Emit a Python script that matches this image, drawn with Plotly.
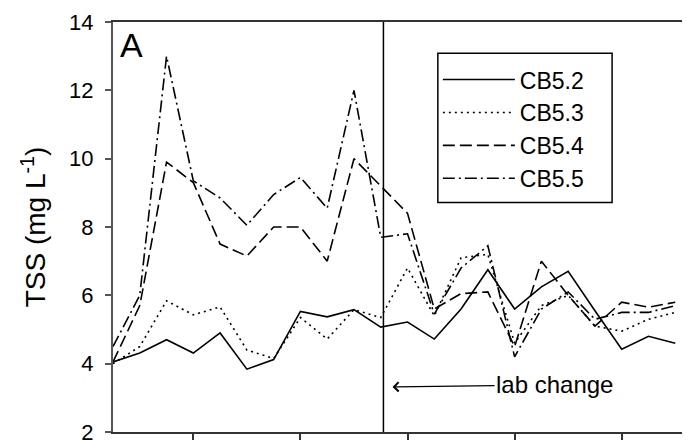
import plotly.graph_objects as go

# sample index (time step) along the x axis
idx = list(range(22))

cb52 = [4.05, 4.31, 4.70, 4.31, 4.90, 3.84, 4.12, 5.53, 5.37, 5.58, 5.07, 5.22,
        4.72, 5.60, 6.75, 5.60, 6.25, 6.70, 5.55, 4.42, 4.80, 4.60]
cb53 = [4.00, 4.50, 5.84, 5.43, 5.66, 4.40, 4.15, 5.35, 4.72, 5.58, 5.35, 6.80,
        5.40, 7.10, 7.20, 4.60, 5.70, 6.00, 5.10, 4.95, 5.30, 5.50]
cb54 = [4.05, 5.70, 9.90, 9.30, 7.50, 7.15, 8.00, 8.00, 7.00, 10.00, 9.20, 8.40,
        5.60, 6.05, 6.10, 4.50, 7.00, 6.00, 5.10, 5.80, 5.65, 5.80]
cb55 = [4.50, 6.00, 13.00, 9.35, 8.85, 8.05, 8.95, 9.45, 8.55, 12.00, 7.70, 7.80,
        5.45, 6.80, 7.45, 4.20, 5.60, 6.10, 5.30, 5.50, 5.50, 5.70]

names = ["CB5.2", "CB5.3", "CB5.4", "CB5.5"]
series = [cb52, cb53, cb54, cb55]
dashes = ["solid", "2px,4px", "12px,5px", "12px,4px,2px,4px"]

x_ticks = [3, 7, 11, 15, 19]
y_ticks = [2, 4, 6, 8, 10, 12, 14]
lab_change_x = 10.1

FONT = "Liberation Sans, Arial, sans-serif"

fig = go.Figure()
for name, vals, dash in zip(names, series, dashes):
    fig.add_trace(go.Scatter(
        x=idx, y=vals, mode="lines", name=name,
        line=dict(color="black", width=1.6, dash=dash),
    ))

fig.add_shape(type="line", xref="x", yref="paper", x0=lab_change_x, x1=lab_change_x,
              y0=0, y1=1, line=dict(color="black", width=1.5))

# frame around the legend (wider than plotly's own legend box)
fig.add_shape(type="rect", xref="paper", yref="paper", x0=0.563, x1=0.865,
              y0=0.560, y1=0.924, line=dict(color="black", width=1.5),
              fillcolor="white", layer="above")

fig.add_annotation(text="A", xref="paper", yref="paper", x=0.0095, y=0.944,
                   xanchor="left", yanchor="middle", showarrow=False,
                   font=dict(size=34, color="black", family=FONT))

fig.add_annotation(text="lab change", xref="x", yref="y", x=10.44, y=3.32,
                   ax=162, ay=-2, showarrow=True, arrowhead=4, arrowsize=1.5,
                   arrowwidth=1.2, arrowcolor="black",
                   font=dict(size=24, color="black", family=FONT))

fig.update_layout(
    template="none",
    width=690, height=440,
    margin=dict(l=105, r=8, t=14, b=16),
    paper_bgcolor="white", plot_bgcolor="white",
    font=dict(family=FONT, color="black"),
    showlegend=True,
    legend=dict(x=0.563, y=0.912, xanchor="left", yanchor="top",
                borderwidth=0, bgcolor="rgba(0,0,0,0)",
                font=dict(size=23, family=FONT), itemwidth=72,
                tracegroupgap=0),
    xaxis=dict(range=[0, 21.55], tickvals=x_ticks, showticklabels=False,
               ticks="outside", ticklen=8, tickwidth=1.5, tickcolor="#333",
               showline=True, linecolor="#333", linewidth=2, mirror=True,
               showgrid=False, zeroline=False, automargin=False),
    yaxis=dict(range=[2, 14], tickvals=y_ticks, ticks="outside", ticklen=6,
               tickwidth=1.5, tickcolor="#555", showline=True, linecolor="#555",
               linewidth=2, showgrid=False, zeroline=False, automargin=False,
               tickfont=dict(size=22, family=FONT), ticklabelstandoff=7,
               title=dict(text="TSS (mg L<sup>-1</sup>)", standoff=15,
                          font=dict(size=28, family=FONT))),
)

fig.write_html("out.html")
